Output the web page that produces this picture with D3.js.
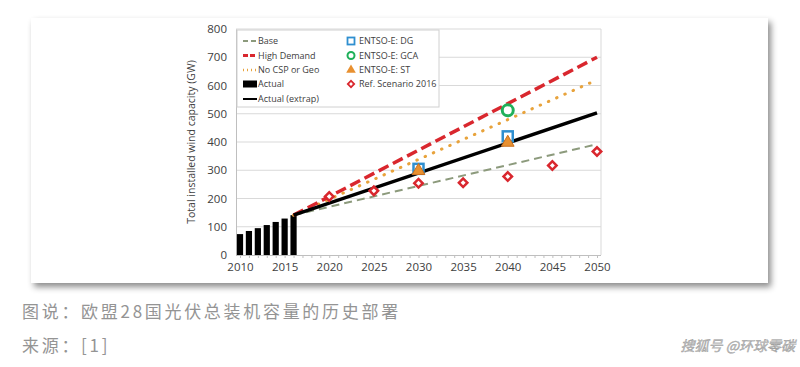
<!DOCTYPE html>
<html><head><meta charset="utf-8">
<script src="https://cdn.jsdelivr.net/npm/d3@7"></script>
<style>
body{margin:0;background:#fff;}
svg{display:block;}
</style></head>
<body>
<svg id="c" width="800" height="367"></svg>
<script>
// ---- data ----
const actualYears = [2010, 2011, 2012, 2013, 2014, 2015, 2016];
const actualValues = [74, 85, 95, 106, 117, 129, 141];
const lineYears = [2016, 2050];
const baseValues = [141, 392];
const highDemandValues = [141, 700];
const noCspValues = [141, 620];
const extrapValues = [141, 503];
const refYears = [2020, 2025, 2030, 2035, 2040, 2045, 2050];
const refValues = [207, 227, 254, 256, 278, 317, 366];
const dgYears = [2030, 2040];
const dgValues = [305, 420];
const gcaYears = [2040];
const gcaValues = [512];
const stYears = [2030, 2040];
const stValues = [298, 398];
const xTicks = [2010, 2015, 2020, 2025, 2030, 2035, 2040, 2045, 2050];
const yTicks = [0, 100, 200, 300, 400, 500, 600, 700, 800];
const yTitle = "Total installed wind capacity (GW)";
const caption1 = "图说：欧盟28国光伏总装机容量的历史部署";
const caption2 = "来源：[1]";
const watermark = "搜狐号 @环球零碳";

const svg = d3.select("#c");
const defs = svg.append("defs");
const f = defs.append("filter").attr("id","sh").attr("x","-5%").attr("y","-5%").attr("width","110%").attr("height","120%");
f.append("feDropShadow").attr("dx",3).attr("dy",4).attr("stdDeviation",3).attr("flood-color","#000").attr("flood-opacity",0.45);

// card
svg.append("rect").attr("x",31).attr("y",18).attr("width",737).attr("height",265).attr("fill","#fff").attr("filter","url(#sh)");

const L = 236, R = 601, T = 29, B = 255;
const x = d3.scaleLinear().domain([2010, 2050]).range([240, 597]);
const y = d3.scaleLinear().domain([0, 800]).range([B, T]);
const font = "'Open Sans', 'Liberation Sans', sans-serif";

// gridlines
svg.append("g").selectAll("line").data(yTicks.filter(d=>d>0)).join("line")
  .attr("x1",L).attr("x2",R).attr("y1",d=>y(d)).attr("y2",d=>y(d))
  .attr("stroke","#d9d9d9").attr("stroke-width",1);
svg.append("line").attr("x1",R).attr("x2",R).attr("y1",T).attr("y2",B).attr("stroke","#d9d9d9");

// y axis
const ya = svg.append("g").attr("transform",`translate(${L},0)`)
  .call(d3.axisLeft(y).tickValues(yTicks).tickSize(0).tickPadding(9));
ya.select(".domain").attr("stroke","#bfbfbf");
ya.selectAll("text").attr("font-family",font).attr("font-size",11.5).attr("fill","#404040");

// x axis
const xa = svg.append("g").attr("transform",`translate(0,${B})`)
  .call(d3.axisBottom(x).tickValues(d3.range(2010,2051)).tickSize(3).tickFormat(d=> xTicks.includes(d) ? d : ""));
xa.select(".domain").attr("stroke","#bfbfbf").attr("d",`M${L},0.5H${R}`);
xa.selectAll("line").attr("stroke","#bfbfbf");
xa.selectAll("text").attr("font-family",font).attr("font-size",11.5).attr("fill","#404040").attr("dy","0.9em");

// y title
svg.append("text").attr("transform",`translate(195,${(T+B)/2}) rotate(-90)`)
  .attr("text-anchor","middle").attr("font-family",font).attr("font-size",10.5).attr("fill","#404040").text(yTitle);

// bars
const bw = 6.2;
svg.append("g").selectAll("rect").data(actualYears.map((d,i)=>({yr:d,v:actualValues[i]}))).join("rect")
  .attr("x",d=>x(d.yr)-bw/2).attr("width",bw).attr("y",d=>y(d.v)).attr("height",d=>B-y(d.v)).attr("fill","#000");

// lines
const lg = d3.line().x(d=>x(d[0])).y(d=>y(d[1]));
function drawLine(vals, color, w, dash, round){
  svg.append("path").datum(lineYears.map((yr,i)=>[yr, vals[i]])).attr("d",lg)
    .attr("fill","none").attr("stroke",color).attr("stroke-width",w).attr("stroke-dasharray",dash)
    .attr("stroke-linecap", round?"round":"butt");
}
drawLine(baseValues, "#8c9a7c", 2, "8,5");
drawLine(noCspValues, "#e8a33c", 3, "0.5,8.5", true);
drawLine(highDemandValues, "#d9272e", 3.5, "11,5");
drawLine(extrapValues, "#000", 3.5, null);

// markers
const pts = (ys, vs) => ys.map((yr,i)=>({yr, v:vs[i]}));
svg.append("g").selectAll("path").data(pts(refYears, refValues)).join("path")
  .attr("d", d3.symbol().type(d3.symbolSquare).size(36))
  .attr("transform", d=>`translate(${x(d.yr)},${y(d.v)}) rotate(45)`)
  .attr("fill","#fff").attr("stroke","#d9272e").attr("stroke-width",2.5);
svg.append("g").selectAll("rect").data(pts(dgYears, dgValues)).join("rect")
  .attr("x",d=>x(d.yr)-5).attr("y",d=>y(d.v)-5).attr("width",10).attr("height",10)
  .attr("fill","#fff").attr("stroke","#2f8fd0").attr("stroke-width",2.5);
svg.append("g").selectAll("circle").data(pts(gcaYears, gcaValues)).join("circle")
  .attr("cx",d=>x(d.yr)).attr("cy",d=>y(d.v)).attr("r",5.5)
  .attr("fill","#fff").attr("stroke","#1fb05a").attr("stroke-width",3);
svg.append("g").selectAll("path").data(pts(stYears, stValues)).join("path")
  .attr("d", d3.symbol().type(d3.symbolTriangle).size(70))
  .attr("transform", d=>`translate(${x(d.yr)},${y(d.v)})`)
  .attr("fill","#e89030").attr("stroke","#c87020").attr("stroke-width",1);

// legend
svg.append("rect").attr("x",237).attr("y",30).attr("width",202).attr("height",77)
  .attr("fill","#fff").attr("stroke","#d0d0d0");
const lf = 9;
const leftItems = [
  {t:"Base", kind:"line", c:"#8c9a7c", w:2, dash:"5,3"},
  {t:"High Demand", kind:"line", c:"#d9272e", w:3, dash:"5,2"},
  {t:"No CSP or Geo", kind:"line", c:"#e8a33c", w:2.5, dash:"1,3"},
  {t:"Actual", kind:"bar", c:"#000"},
  {t:"Actual (extrap)", kind:"line", c:"#000", w:2, dash:null}
];
const rowY = [41, 55.5, 70, 84, 99];
leftItems.forEach((it,i)=>{
  const yy = rowY[i];
  if(it.kind==="line"){
    svg.append("line").attr("x1",243).attr("x2",257).attr("y1",yy).attr("y2",yy)
      .attr("stroke",it.c).attr("stroke-width",it.w).attr("stroke-dasharray",it.dash);
  } else {
    svg.append("rect").attr("x",243).attr("y",yy-3.5).attr("width",14).attr("height",7).attr("fill",it.c);
  }
  svg.append("text").attr("x",258).attr("y",yy).attr("dy","0.35em").attr("font-family",font)
    .attr("font-size",lf).attr("fill","#404040").text(it.t);
});
const rightItems = [
  {t:"ENTSO-E: DG", kind:"sq"},
  {t:"ENTSO-E: GCA", kind:"ci"},
  {t:"ENTSO-E: ST", kind:"tr"},
  {t:"Ref. Scenario 2016", kind:"di"}
];
rightItems.forEach((it,i)=>{
  const yy = rowY[i], cx = 351;
  if(it.kind==="sq") svg.append("rect").attr("x",cx-3.5).attr("y",yy-3.5).attr("width",7).attr("height",7).attr("fill","#fff").attr("stroke","#2f8fd0").attr("stroke-width",1.8);
  if(it.kind==="ci") svg.append("circle").attr("cx",cx).attr("cy",yy).attr("r",3.5).attr("fill","#fff").attr("stroke","#1fb05a").attr("stroke-width",2);
  if(it.kind==="tr") svg.append("path").attr("d",d3.symbol().type(d3.symbolTriangle).size(40)).attr("transform",`translate(${cx},${yy})`).attr("fill","#e89030");
  if(it.kind==="di") svg.append("path").attr("d",d3.symbol().type(d3.symbolSquare).size(20)).attr("transform",`translate(${cx},${yy}) rotate(45)`).attr("fill","#fff").attr("stroke","#d9272e").attr("stroke-width",1.8);
  svg.append("text").attr("x",359).attr("y",yy).attr("dy","0.35em").attr("font-family",font)
    .attr("font-size",lf).attr("fill","#404040").text(it.t);
});

// captions
const cf = "'Noto Sans CJK SC', sans-serif";
svg.append("text").attr("x",22).attr("y",312).attr("dy","0.35em").attr("font-family",cf).attr("font-size",17)
  .attr("letter-spacing",2.7).attr("fill","#949494").text(caption1);
svg.append("text").attr("x",22).attr("y",346).attr("dy","0.35em").attr("font-family",cf).attr("font-size",17)
  .attr("letter-spacing",2.7).attr("fill","#949494").text(caption2);
svg.append("text").attr("x",795).attr("y",346).attr("dy","0.35em").attr("text-anchor","end").attr("font-family",cf).attr("font-size",14)
  .attr("font-style","italic").attr("fill","#c4c4c4").attr("stroke","#999").attr("stroke-width",0.4).text(watermark);
</script>
</body></html>
